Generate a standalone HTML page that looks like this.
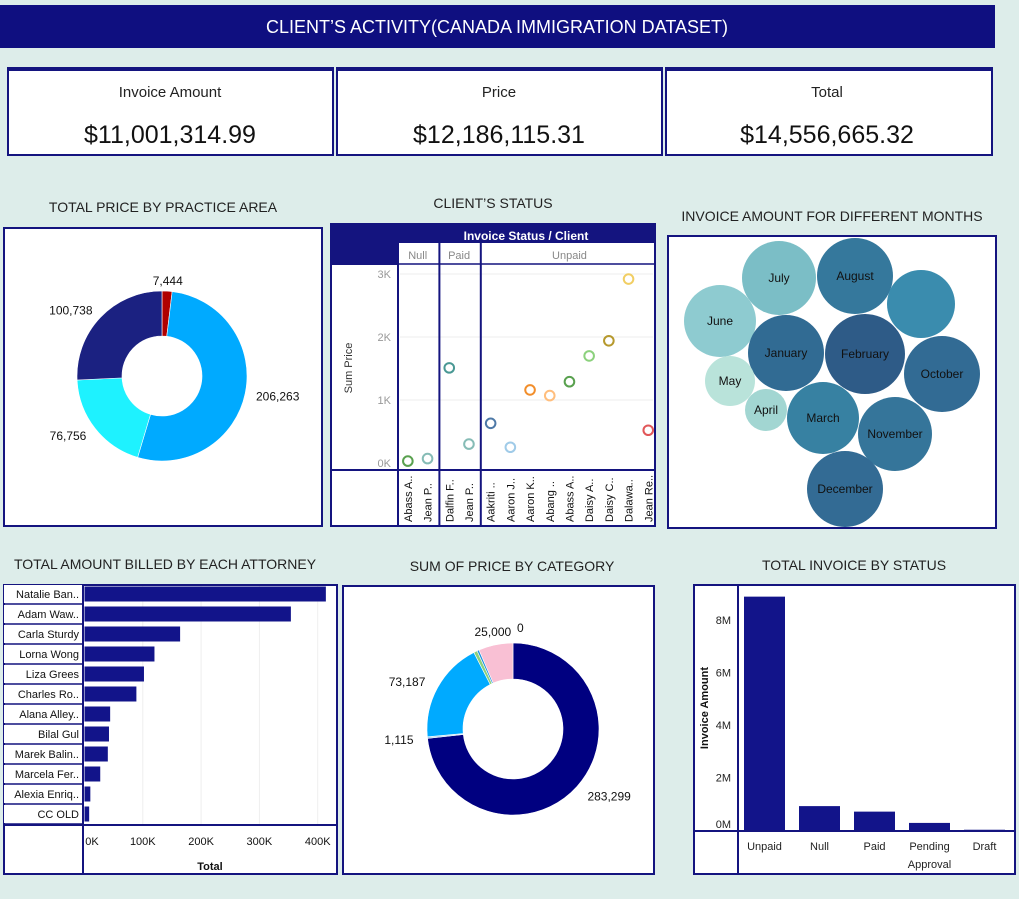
<!DOCTYPE html>
<html><head><meta charset="utf-8">
<style>
body{margin:0;background:#ddedea;font-family:"Liberation Sans",sans-serif;}
svg{display:block}
text{font-family:"Liberation Sans",sans-serif;}
</style></head>
<body>
<svg id="s" width="1019" height="899" viewBox="0 0 1019 899" xmlns="http://www.w3.org/2000/svg">
<rect x="0" y="0" width="1019" height="899" fill="#ddedea"/>
<rect x="0" y="5" width="995" height="43" fill="#0f0f80"/>
<text x="497" y="33" text-anchor="middle" fill="#fff" font-size="18">CLIENT’S ACTIVITY(CANADA IMMIGRATION DATASET)</text>

<g>
<rect x="8" y="69" width="325" height="86" fill="#fff" stroke="#14147f" stroke-width="2"/>
<rect x="7" y="67" width="327" height="4" fill="#14147f"/>
<text x="170" y="97" text-anchor="middle" font-size="15" fill="#222">Invoice Amount</text>
<text x="170" y="143" text-anchor="middle" font-size="25" fill="#111">$11,001,314.99</text></g>
<g>
<rect x="337" y="69" width="325" height="86" fill="#fff" stroke="#14147f" stroke-width="2"/>
<rect x="336" y="67" width="327" height="4" fill="#14147f"/>
<text x="499" y="97" text-anchor="middle" font-size="15" fill="#222">Price</text>
<text x="499" y="143" text-anchor="middle" font-size="25" fill="#111">$12,186,115.31</text></g>
<g>
<rect x="666" y="69" width="326" height="86" fill="#fff" stroke="#14147f" stroke-width="2"/>
<rect x="665" y="67" width="328" height="4" fill="#14147f"/>
<text x="827" y="97" text-anchor="middle" font-size="15" fill="#222">Total</text>
<text x="827" y="143" text-anchor="middle" font-size="25" fill="#111">$14,556,665.32</text></g>

<text x="163" y="212" text-anchor="middle" font-size="14" fill="#222">TOTAL  PRICE BY PRACTICE AREA</text>
<text x="493" y="208" text-anchor="middle" font-size="14" fill="#222">CLIENT’S STATUS</text>
<text x="832" y="221" text-anchor="middle" font-size="14" fill="#222">INVOICE AMOUNT FOR DIFFERENT MONTHS</text>
<text x="165" y="569" text-anchor="middle" font-size="14" fill="#222">TOTAL AMOUNT BILLED BY  EACH ATTORNEY</text>
<text x="512" y="571" text-anchor="middle" font-size="14" fill="#222">SUM OF PRICE BY CATEGORY</text>
<text x="854" y="570" text-anchor="middle" font-size="14" fill="#222">TOTAL INVOICE BY STATUS</text>

<rect x="4" y="228" width="318" height="298" fill="#fff" stroke="#14147f" stroke-width="2"/>
<rect x="331" y="224" width="324" height="302" fill="#fff" stroke="#14147f" stroke-width="2"/>
<rect x="668" y="236" width="328" height="292" fill="#fff" stroke="#14147f" stroke-width="2"/>
<rect x="4" y="585" width="333" height="289" fill="#fff" stroke="#14147f" stroke-width="2"/>
<rect x="343" y="586" width="311" height="288" fill="#fff" stroke="#14147f" stroke-width="2"/>
<rect x="694" y="585" width="321" height="289" fill="#fff" stroke="#14147f" stroke-width="2"/>

<g id="g1"></g>
<g id="g2"></g>
<g id="g3"></g>
<g id="g4"></g>
<g id="g5"></g>
<g id="g6"></g>
</svg>
<script>
// ---- data ----
var practiceValues=[7444,206263,76756,100738];
var practiceLabels=["7,444","206,263","76,756","100,738"];
var practiceColors=["#b00000","#00aaff","#1ef2ff","#1b2181"];

var clientNames=["Abass A..","Jean P..","Dalfin F..","Jean P..","Aakriti ..","Aaron J..","Aaron K..","Abang ..","Abass A..","Daisy A..","Daisy C..","Dalawa..","Jean Re.."];
var clientStatus=["Null","Null","Paid","Paid","Unpaid","Unpaid","Unpaid","Unpaid","Unpaid","Unpaid","Unpaid","Unpaid","Unpaid"];
var clientPrice=[30,70,1510,300,630,250,1160,1070,1290,1700,1940,2920,520];
var clientColors=["#59a14f","#86bcb6","#499894","#86bcb6","#4e79a7","#a0cbe8","#f28e2b","#ffbe7d","#59a14f","#8cd17d","#b6992d","#f1ce63","#e15759"];
var clientTicks=[0,1000,2000,3000];
var clientTickLabels=["0K","1K","2K","3K"];

var monthNames=["July","August","","June","January","February","October","May","April","March","November","December"];
var monthAmounts=[1369,1444,1156,1296,1444,1600,1444,625,441,1296,1369,1444];
var monthColors=["#7bbec6","#35789c","#3a8cae","#8ecbd0","#316b93","#2e5b87","#326b94","#b9e3da","#a2d6d2","#3781a2","#35759a","#336b94"];

var attorneyNames=["Natalie Ban..","Adam Waw..","Carla Sturdy","Lorna Wong","Liza Grees","Charles Ro..","Alana Alley..","Bilal Gul","Marek Balin..","Marcela Fer..","Alexia Enriq..","CC OLD"];
var attorneyTotals=[414000,354000,164000,120000,102000,89000,44000,42000,40000,27000,10000,8000];
var attorneyTicks=[0,100000,200000,300000,400000];
var attorneyTickLabels=["0K","100K","200K","300K","400K"];

var categoryValues=[283299,1115,73187,2600,1500,25000,0];
var categoryLabels=["283,299","1,115","73,187","","","25,000","0"];
var categoryColors=["#000080","#a8d0ec","#00aaff","#8cd17d","#1e90e0","#f9c0d4","#999999"];

var statusNames=["Unpaid","Null","Paid","Pending","Draft"];
var statusValues=[8890000,910000,700000,270000,10000];
var statusTicks=[0,2000000,4000000,6000000,8000000];
var statusTickLabels=["0M","2M","4M","6M","8M"];

// ---- helpers ----
var NS="http://www.w3.org/2000/svg";
function mk(parent,tag,attrs,txt){var e=document.createElementNS(NS,tag);for(var k in attrs)e.setAttribute(k,attrs[k]);if(txt!==undefined)e.textContent=txt;parent.appendChild(e);return e;}
function arcPath(cx,cy,ro,ri,a0,a1){
  function p(r,a){return [cx+r*Math.sin(a),cy-r*Math.cos(a)];}
  var large=(a1-a0)>Math.PI?1:0;var A=p(ro,a0),B=p(ro,a1),C=p(ri,a1),D=p(ri,a0);
  return "M"+A[0]+" "+A[1]+"A"+ro+" "+ro+" 0 "+large+" 1 "+B[0]+" "+B[1]+"L"+C[0]+" "+C[1]+"A"+ri+" "+ri+" 0 "+large+" 0 "+D[0]+" "+D[1]+"Z";
}
function donut(g,vals,labels,colors,cx,cy,ro,ri,lr,name){
  var tot=vals.reduce(function(a,b){return a+b;},0);var a=0;
  for(var i=0;i<vals.length;i++){
    var a1=a+vals[i]/tot*2*Math.PI;
    if(vals[i]>0){var s=mk(g,"path",{d:arcPath(cx,cy,ro,ri,a,Math.min(a1,a+2*Math.PI-1e-4)),fill:colors[i],stroke:"#fff","stroke-width":0.6});
      
      }
    if(labels[i]){var m=(a+a1)/2;var x=cx+lr*Math.sin(m),y=cy-lr*Math.cos(m)+5;
      var anc=Math.sin(m)>0.3?"start":(Math.sin(m)<-0.3?"end":"middle");
      if(vals[i]===0){x+=4;y-=2;anc="start";}
      var t=mk(g,"text",{x:x,y:y,"font-size":12,fill:"#111","text-anchor":anc},labels[i]);
      
      }
    a=a1;
  }
}
// ---- chart 1 ----
donut(document.getElementById("g1"),practiceValues,practiceLabels,practiceColors,162,376,85,40,96,"practice");

// ---- chart 2 ----
(function(){
  var g=document.getElementById("g2");
  mk(g,"rect",{x:331,y:224,width:324,height:19,fill:"#14147f"});
  mk(g,"rect",{x:331,y:243,width:67,height:22,fill:"#14147f"});
  mk(g,"text",{x:526,y:240,"font-size":12,"font-weight":"bold",fill:"#fff","text-anchor":"middle"},"Invoice Status  /  Client");
  var x0=398,colW=19.7,y0=463,y3=274;
  function Y(v){return y0-(v-0)/(3000)*(y0-y3);}
  function X(i){return x0+colW*(i+0.5)+2*(i>=2)+2*(i>=4);}
  // tick lines
  clientTicks.forEach(function(t,i){
    if(i>0)mk(g,"line",{x1:400,x2:653,y1:Y(t),y2:Y(t),stroke:"#eee"});
    var tl=mk(g,"text",{x:391,y:Y(t)+4,"font-size":11,fill:"#999","text-anchor":"end"},clientTickLabels[i]);
    
    
  });
  var yt=mk(g,"text",{x:352,y:368,"font-size":11,fill:"#333","text-anchor":"middle",transform:"rotate(-90 352 368)"},"Sum Price");
  
  
  // group headers
  var groups=[];clientStatus.forEach(function(s,i){if(!groups.length||groups[groups.length-1].s!==s)groups.push({s:s,a:i,b:i});else groups[groups.length-1].b=i;});
  groups.forEach(function(gr,k){
    var xa=X(gr.a)-colW/2,xb=X(gr.b)+colW/2;
    var h=mk(g,"text",{x:(xa+xb)/2,y:259,"font-size":11,fill:"#888","text-anchor":"middle"},gr.s);
    
    
    mk(g,"line",{x1:xa,x2:xa,y1:243,y2:525,stroke:"#14147f","stroke-width":2});
  });
  mk(g,"line",{x1:331,x2:655,y1:264,y2:264,stroke:"#14147f","stroke-width":1.5});
  mk(g,"line",{x1:331,x2:655,y1:470,y2:470,stroke:"#14147f","stroke-width":2});
  clientPrice.forEach(function(v,i){
    var c=mk(g,"circle",{cx:X(i),cy:Y(v),r:4.8,fill:"none",stroke:clientColors[i],"stroke-width":2});
    
    
    var tx=X(i)+4,ty=522;
    var t=mk(g,"text",{x:tx,y:ty,"font-size":11,fill:"#111",transform:"rotate(-90 "+tx+" "+ty+")"},clientNames[i]);
    
    
  });
})();

// ---- chart 3 ----
(function(){
  var g=document.getElementById("g3");
  var layout=[[779,278],[855,276],[921,304],[720,321],[786,353],[865,354],[942,374],[730,381],[766,410],[823,418],[895,434],[845,489]];
  var k=40/Math.sqrt(1600);
  monthAmounts.forEach(function(v,i){
    var c=mk(g,"circle",{cx:layout[i][0],cy:layout[i][1],r:Math.sqrt(v)*k,fill:monthColors[i]});
    
    
    if(monthNames[i]){var t=mk(g,"text",{x:layout[i][0],y:layout[i][1]+4,"font-size":12,fill:"#111","text-anchor":"middle"},monthNames[i]);
      
      }
  });
})();

// ---- chart 4 ----
(function(){
  var g=document.getElementById("g4");
  var x0=84.5,px=0.583/1000;
  function X(v){return x0+v*px;}
  attorneyTicks.forEach(function(t,i){
    if(i>0)mk(g,"line",{x1:X(t),x2:X(t),y1:586,y2:825,stroke:"#eee"});
    var tl=mk(g,"text",{x:i==0?92:X(t),y:845,"font-size":11,fill:"#111","text-anchor":"middle"},attorneyTickLabels[i]);
    
    
  });
  attorneyNames.forEach(function(n,i){
    var yc=594+20*i;
    mk(g,"rect",{x:4,y:yc-9,width:78,height:18,fill:"#fff"});
    mk(g,"line",{x1:4,x2:82,y1:yc+10,y2:yc+10,stroke:"#14147f","stroke-width":1.5});
    var t=mk(g,"text",{x:79,y:yc+4,"font-size":11,fill:"#111","text-anchor":"end"},n);
    
    
    var b=mk(g,"rect",{x:x0,y:yc-7.5,width:X(attorneyTotals[i])-x0,height:15,fill:"#12148a"});
    
    
  });
  mk(g,"line",{x1:83,x2:83,y1:585,y2:874,stroke:"#14147f","stroke-width":2});
  mk(g,"line",{x1:4,x2:337,y1:825,y2:825,stroke:"#14147f","stroke-width":2});
  var tt=mk(g,"text",{x:210,y:870,"font-size":11,"font-weight":"bold",fill:"#111","text-anchor":"middle"},"Total");
  
  
})();

// ---- chart 5 ----
donut(document.getElementById("g5"),categoryValues,categoryLabels,categoryColors,513,729,86,50,100,"category");

// ---- chart 6 ----
(function(){
  var g=document.getElementById("g6");
  var base=830,perM=26.25/1e6,x0=739,bw=55;
  function Y(v){return base-v*perM;}
  statusTicks.forEach(function(t,i){
    var tl=mk(g,"text",{x:731,y:Math.min(Y(t)+4,828),"font-size":11,fill:"#222","text-anchor":"end"},statusTickLabels[i]);
    
    
  });
  statusValues.forEach(function(v,i){
    var b=mk(g,"rect",{x:x0+bw*i+5,y:Y(v),width:41,height:base-Y(v),fill:"#12148a"});
    
    
    var t=mk(g,"text",{x:x0+bw*i+25.5,y:850,"font-size":11,fill:"#222","text-anchor":"middle"},statusNames[i]);
    
    
    if(statusNames[i]==="Pending"){var t2=mk(g,"text",{x:x0+bw*i+25.5,y:868,"font-size":11,fill:"#222","text-anchor":"middle"},"Approval");
      
      }
  });
  mk(g,"line",{x1:738,x2:738,y1:585,y2:874,stroke:"#14147f","stroke-width":2});
  mk(g,"line",{x1:694,x2:1015,y1:831,y2:831,stroke:"#14147f","stroke-width":2});
  var yt=mk(g,"text",{x:708,y:708,"font-size":11,"font-weight":"bold",fill:"#111","text-anchor":"middle",transform:"rotate(-90 708 708)"},"Invoice Amount");
  
  
})();
</script>
</body></html>
